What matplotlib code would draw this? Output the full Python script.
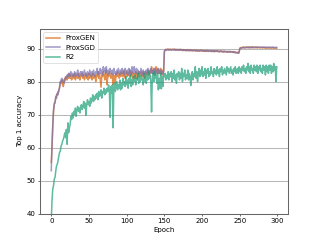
import matplotlib
matplotlib.use("Agg")
import matplotlib.pyplot as plt
import numpy as np

epochs = np.arange(300)

prox_gen = [
    55.5, 60.0, 66.5, 71.0, 73.5, 73.5, 75.0, 76.0, 76.0, 77.0,
    77.0, 78.5, 80.0, 79.5, 80.5, 79.0, 78.5, 80.0, 81.0, 80.5,
    81.5, 80.5, 82.0, 81.0, 82.5, 81.0, 82.0, 80.5, 81.5, 82.0,
    81.0, 82.5, 80.5, 81.5, 82.0, 81.0, 82.5, 81.0, 80.5, 82.0,
    81.5, 82.5, 81.0, 82.0, 80.5, 81.5, 82.5, 81.0, 82.0, 80.5,
    82.5, 81.0, 82.0, 81.5, 80.5, 82.5, 81.0, 82.0, 81.5, 80.0,
    82.0, 81.5, 83.0, 81.0, 82.5, 80.5, 78.3, 82.0, 81.5, 83.0,
    82.0, 80.5, 82.5, 83.5, 79.0, 82.0, 81.5, 83.0, 82.0, 81.0,
    82.5, 81.5, 79.0, 82.0, 81.0, 79.5, 82.5, 81.5, 83.0, 82.0,
    81.0, 82.5, 81.5, 83.0, 82.0, 81.5, 83.5, 82.0, 81.0, 82.5,
    83.0, 81.5, 82.5, 82.0, 83.5, 81.5, 82.5, 83.0, 81.0, 82.0,
    82.5, 81.0, 83.0, 82.5, 80.8, 82.0, 83.0, 81.5, 82.5, 83.0,
    82.0, 81.5, 83.0, 82.5, 81.0, 83.0, 82.5, 82.0, 83.5, 82.5,
    82.0, 83.5, 82.5, 84.5, 83.0, 82.5, 84.0, 83.0, 82.0, 84.5,
    83.0, 84.0, 82.5, 83.5, 82.5, 84.0, 82.5, 83.5, 82.0, 83.0,
    89.0, 89.5, 89.8, 89.6, 89.7, 89.9, 89.5, 89.7, 89.8, 89.6,
    89.8, 89.6, 89.7, 89.9, 89.6, 89.7, 89.5, 89.8, 89.6, 89.7,
    89.5, 89.7, 89.8, 89.5, 89.6, 89.4, 89.7, 89.5, 89.6, 89.3,
    89.6, 89.4, 89.7, 89.5, 89.3, 89.6, 89.4, 89.5, 89.3, 89.6,
    89.4, 89.5, 89.2, 89.6, 89.4, 89.3, 89.5, 89.2, 89.4, 89.5,
    89.3, 89.5, 89.2, 89.4, 89.1, 89.4, 89.2, 89.5, 89.3, 89.2,
    89.4, 89.3, 89.1, 89.4, 89.2, 89.3, 89.0, 89.3, 89.2, 89.4,
    89.1, 89.3, 89.2, 89.0, 89.2, 89.3, 89.1, 89.2, 88.9, 89.2,
    89.0, 89.2, 89.1, 89.0, 88.9, 89.1, 89.0, 89.2, 88.9, 89.0,
    89.1, 88.8, 89.0, 88.9, 88.7, 88.9, 88.8, 88.6, 88.8, 88.7,
    90.1, 90.3, 90.2, 90.4, 90.3, 90.5, 90.2, 90.4, 90.3, 90.5,
    90.3, 90.4, 90.2, 90.5, 90.3, 90.4, 90.6, 90.3, 90.4, 90.2,
    90.4, 90.3, 90.5, 90.2, 90.4, 90.3, 90.4, 90.2, 90.3, 90.4,
    90.2, 90.3, 90.4, 90.2, 90.3, 90.1, 90.3, 90.2, 90.3, 90.1,
    90.2, 90.3, 90.1, 90.2, 90.3, 90.1, 90.2, 90.1, 90.2, 90.1,
]

prox_sgd = [
    53.0, 61.0, 67.0, 71.5, 73.0, 74.0, 75.5, 75.0, 76.5, 76.0,
    77.5, 78.0, 79.5, 80.5, 81.0, 80.0, 80.5, 79.5, 80.5, 81.5,
    81.0, 82.0, 81.5, 82.5, 82.0, 81.5, 83.0, 82.0, 82.5, 81.5,
    82.0, 83.0, 81.5, 82.5, 82.0, 83.5, 82.0, 81.5, 82.5, 83.0,
    82.0, 83.0, 81.5, 82.5, 83.5, 82.0, 82.5, 81.5, 83.0, 82.5,
    82.0, 83.5, 82.5, 81.5, 83.0, 82.0, 83.5, 82.5, 81.5, 83.0,
    82.5, 84.0, 82.0, 83.0, 82.5, 84.0, 82.5, 83.5, 82.0, 84.5,
    83.0, 84.0, 82.5, 84.5, 83.0, 82.0, 83.5, 82.5, 84.0, 83.0,
    82.5, 83.5, 82.0, 84.0, 82.5, 83.0, 82.0, 83.5, 82.5, 84.0,
    83.0, 82.0, 83.5, 82.5, 84.0, 82.5, 83.0, 82.0, 84.0, 83.0,
    82.5, 83.5, 82.0, 84.0, 82.5, 83.5, 82.0, 84.5, 83.0, 82.5,
    84.5, 83.0, 82.5, 84.0, 82.5, 83.5, 82.0, 83.0, 82.5, 84.0,
    83.0, 82.0, 83.5, 82.5, 83.0, 82.0, 83.5, 82.5, 84.0, 82.5,
    83.0, 82.5, 84.0, 83.0, 82.5, 83.5, 82.0, 84.0, 83.0, 82.5,
    83.5, 82.5, 84.0, 83.0, 82.5, 83.5, 82.0, 83.0, 82.5, 83.0,
    89.3, 89.6, 89.7, 89.5, 89.8, 89.7, 89.6, 89.8, 89.7, 89.5,
    89.7, 89.8, 89.6, 89.7, 89.5, 89.8, 89.6, 89.7, 89.5, 89.6,
    89.8, 89.5, 89.7, 89.6, 89.4, 89.7, 89.5, 89.6, 89.4, 89.7,
    89.5, 89.6, 89.3, 89.5, 89.7, 89.4, 89.6, 89.3, 89.5, 89.4,
    89.6, 89.3, 89.5, 89.4, 89.2, 89.5, 89.3, 89.4, 89.6, 89.3,
    89.4, 89.2, 89.5, 89.3, 89.4, 89.2, 89.5, 89.3, 89.1, 89.4,
    89.3, 89.2, 89.4, 89.1, 89.3, 89.2, 89.4, 89.1, 89.3, 89.2,
    89.3, 89.1, 89.2, 89.0, 89.3, 89.1, 89.2, 89.0, 89.2, 89.1,
    89.2, 89.0, 89.1, 88.9, 89.2, 89.0, 89.1, 88.9, 89.1, 89.0,
    89.0, 88.9, 89.1, 88.8, 89.0, 88.8, 88.7, 88.9, 88.6, 88.8,
    90.0, 90.2, 90.1, 90.3, 90.2, 90.4, 90.3, 90.2, 90.4, 90.3,
    90.4, 90.3, 90.5, 90.3, 90.4, 90.2, 90.4, 90.3, 90.5, 90.4,
    90.3, 90.5, 90.4, 90.3, 90.5, 90.4, 90.3, 90.4, 90.5, 90.3,
    90.4, 90.3, 90.5, 90.4, 90.3, 90.5, 90.4, 90.3, 90.4, 90.5,
    90.4, 90.3, 90.4, 90.5, 90.3, 90.4, 90.3, 90.4, 90.3, 90.4,
]

r2 = [
    38.0, 44.0, 47.5, 48.5, 50.5, 51.0, 53.0, 54.5, 55.0, 56.0,
    57.5, 58.5, 59.0, 60.5, 61.0, 62.0, 62.5, 63.5, 64.5, 63.0,
    65.5, 61.0, 67.5, 64.5, 66.0, 67.0, 69.5, 68.5, 70.5, 69.0,
    71.0, 70.0, 72.0, 69.5, 71.5, 72.5, 71.0, 72.0, 70.5, 72.5,
    73.0, 71.5, 72.5, 74.0, 72.0, 73.5, 69.8, 73.0, 74.5, 73.0,
    74.0, 72.5, 75.0, 73.5, 74.5, 76.0, 74.0, 75.5, 74.5, 76.0,
    75.0, 76.5, 74.5, 77.0, 75.5, 76.0, 77.5, 75.0, 77.0, 76.5,
    78.0, 76.0, 77.5, 76.5, 78.0, 77.0, 79.0, 77.5, 69.2, 78.5,
    76.5, 79.0, 66.0, 78.0, 79.5, 77.0, 78.5, 80.0, 77.5, 79.0,
    78.0, 80.5, 77.5, 79.5, 78.0, 81.0, 79.0, 80.0, 78.5, 81.5,
    79.0, 80.5, 78.0, 81.0, 79.5, 82.0, 78.5, 80.5, 79.0, 81.5,
    80.0, 82.0, 79.0, 81.0, 80.5, 82.5, 79.5, 81.5, 80.0, 82.0,
    80.5, 81.0, 79.0, 82.5, 80.0, 81.5, 79.5, 82.0, 80.5, 83.0,
    81.0, 82.0, 80.0, 70.8, 81.5, 82.5, 80.0, 83.0, 81.0, 82.0,
    79.5, 82.5, 77.5, 81.0, 78.0, 82.5, 77.8, 81.5, 78.5, 82.0,
    81.5, 82.5, 80.5, 82.0, 81.0, 83.0, 80.5, 82.5, 81.5, 83.0,
    80.0, 82.5, 81.0, 83.5, 80.5, 82.0, 79.5, 82.5, 81.5, 83.0,
    80.5, 82.5, 81.0, 84.0, 80.0, 82.5, 81.5, 83.5, 80.5, 82.0,
    81.0, 83.5, 80.5, 82.5, 81.5, 78.8, 82.0, 83.0, 80.5, 82.5,
    81.5, 84.5, 81.0, 83.0, 80.0, 82.5, 84.0, 81.5, 83.5, 82.0,
    84.5, 81.5, 83.0, 82.0, 84.0, 81.0, 83.5, 82.5, 84.0, 81.5,
    83.0, 82.0, 84.5, 82.5, 83.0, 81.5, 84.0, 82.5, 83.5, 82.0,
    84.5, 82.5, 83.5, 81.5, 84.0, 83.0, 84.5, 82.0, 83.5, 82.5,
    84.0, 83.0, 82.0, 84.5, 83.0, 84.0, 82.5, 83.5, 84.5, 82.5,
    83.5, 82.0, 84.0, 83.0, 84.5, 82.5, 83.5, 84.0, 82.5, 84.5,
    83.0, 84.0, 82.5, 84.5, 83.5, 85.0, 83.0, 84.0, 82.5, 84.5,
    83.5, 85.5, 83.0, 84.5, 82.5, 85.0, 83.5, 84.0, 82.5, 85.0,
    83.5, 84.5, 83.0, 85.0, 82.5, 84.5, 83.5, 85.0, 83.0, 84.0,
    82.5, 85.0, 83.5, 84.5, 82.0, 85.0, 83.0, 84.5, 82.5, 85.0,
    83.5, 85.0, 82.5, 84.5, 83.0, 85.5, 83.5, 84.5, 80.0, 84.5,
]

names = ["ProxGEN", "ProxSGD", "R2"]
colors = ["#d95f02", "#7570b3", "#1b9e77"]

fig, ax = plt.subplots(figsize=(6.4, 4.8))
for y, name, c in zip([prox_gen, prox_sgd, r2], names, colors):
    ax.plot(epochs, y, color=c, alpha=0.7, lw=2.2, label=name)

ax.set_ylim(40, 96)
ax.grid(axis="y", color="#b8b8b8", lw=1.5)
for s in ax.spines.values():
    s.set_color("#666666")
    s.set_linewidth(1.5)
ax.set_xlabel("Epoch")
ax.set_ylabel("Top 1 accuracy")
ax.legend(loc="upper left")
fig.savefig("out.png", dpi=50)
